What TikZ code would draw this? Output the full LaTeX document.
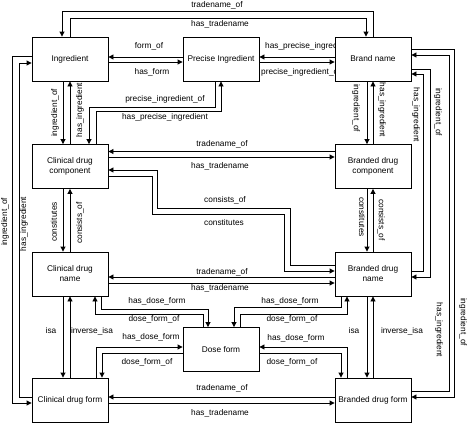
\documentclass[tikz,border=0pt]{standalone}
\usepackage{fontspec}
\setmainfont{Liberation Sans}
\usepackage{tikz}
\usetikzlibrary{arrows.meta, backgrounds}

\begin{document}
\begin{tikzpicture}[
        x=1pt, y=-1pt,
        box/.style={rectangle, draw, line width=0.9pt, fill=white, align=center,
            minimum width=76pt, minimum height=44pt, inner sep=0pt,
            font=\fontsize{8.3}{10}\selectfont},
        lbl/.style={inner sep=0pt, font=\fontsize{8.3}{10}\selectfont},
        arrow/.style={line width=0.9pt, -{Triangle[length=5pt, width=5pt]}}
    ]
        \useasboundingbox (0,0) rectangle (467,423);
        \node[box] (ing) at (70,59) {Ingredient};
        \node[box] (pin) at (221,59) {Precise Ingredient};
        \node[box] (bn) at (373,59) {Brand name};
        \node[box] (cdc) at (70,166.5) {Clinical drug\\component};
        \node[box] (bdc) at (373,166.5) {Branded drug\\component};
        \node[box] (cdn) at (70,274) {Clinical drug\\name};
        \node[box] (bdn) at (373,274) {Branded drug\\name};
        \node[box] (df) at (221,349.5) {Dose form};
        \node[box] (cdf) at (70,400) {Clinical drug form};
        \node[box] (bdf) at (373,400) {Branded drug form};

        \begin{pgfonlayer}{background}
        % top row
        \draw[arrow] (bn.north) -- ++(0,-25) -| ([xshift=-8pt]ing.north);
        \draw[arrow] (ing.north) -- ++(0,-18) -| ([xshift=-7pt]bn.north);
        \draw[arrow] ([yshift=2pt]pin.west) -- ([yshift=2pt]ing.east);
        \draw[arrow] ([yshift=-3pt]ing.east) -- ([yshift=-3pt]pin.west);
        \draw[arrow] ([yshift=2pt]bn.west) -- ([yshift=2pt]pin.east);
        \draw[arrow] ([yshift=-3pt]pin.east) -- ([yshift=-3pt]bn.west);
        \node[lbl] (l1) at (217,5) {tradename\_of};
        \node[lbl] (l2) at (220,24) {has\_tradename};
        \node[lbl] (l3) at (149,46) {form\_of};
        \node[lbl] (l4) at (152,72) {has\_form};
        \node[lbl, anchor=west] (l5) at (265,46) {has\_precise\_ingredient};
        \node[lbl, anchor=west] (l6) at (261,72) {precise\_ingredient\_of};

        % down to the components
        \draw[arrow] ([xshift=-7pt]ing.south) -- ([xshift=-7pt]cdc.north);
        \draw[arrow] (cdc.north) -- (ing.south);
        \draw[arrow] ([xshift=-6pt]pin.south) -- ++(0,26) -| ([xshift=19pt]cdc.north);
        \draw[arrow] ([xshift=26pt]cdc.north) -- ++(0,-32.5) -| (pin.south);
        \draw[arrow] ([xshift=-6pt]bn.south) -- ([xshift=-6pt]bdc.north);
        \draw[arrow] (bdc.north) -- (bn.south);
        \node[lbl, rotate=90] (l7) at (55,113) {ingredient\_of};
        \node[lbl, rotate=90] (l8) at (80,110) {has\_ingredient};
        \node[lbl] (l9) at (165,99) {precise\_ingredient\_of};
        \node[lbl] (l10) at (165,117) {has\_precise\_ingredient};
        \node[lbl, rotate=-90] (l11) at (356,108) {ingredient\_of};
        \node[lbl, rotate=-90] (l12) at (382,110) {has\_ingredient};

        % outer loops
        \draw[arrow] ([yshift=-10pt]bn.east) -- ++(19,0) |- ([yshift=-3pt]bdn.east);
        \draw[arrow] ([yshift=3pt]bdn.east) -- ++(12,0) |- ([yshift=-15pt]bn.east);
        \draw[arrow] ([yshift=10pt]bn.east) -- ++(43,0) |- ([yshift=3pt]bdf.east);
        \draw[arrow] ([yshift=9pt]bdf.east) -- ++(38,0) |- ([yshift=4pt]bn.east);
        \draw[arrow] ([yshift=3pt]ing.west) -- ++(-19,0) |- ([yshift=-3pt]cdf.west);
        \draw[arrow] ([yshift=3pt]cdf.west) -- ++(-12,0) |- ([yshift=-4pt]ing.west);
        \node[lbl, rotate=-90] (l13) at (416,115) {has\_ingredient};
        \node[lbl, rotate=-90] (l14) at (438,112) {ingredient\_of};
        \node[lbl, rotate=-90] (l15) at (439,330) {has\_ingredient};
        \node[lbl, rotate=-90] (l16) at (463,322) {ingredient\_of};
        \node[lbl, rotate=90] (l17) at (5,222) {ingredient\_of};
        \node[lbl, rotate=90] (l18) at (24,224) {has\_ingredient};

        % components
        \draw[arrow] ([yshift=15pt]bdc.west) -- ([yshift=15pt]cdc.east);
        \draw[arrow] ([yshift=9.5pt]cdc.east) -- ([yshift=9.5pt]bdc.west);
        \draw[arrow] ([yshift=9pt]bdn.west) -- ++(-44,0) -- ++(0,-57) -- ++(-133,0) |- ([yshift=-3.5pt]cdc.east);
        \draw[arrow] ([yshift=-9.5pt]cdc.east) -- ++(44,0) -- ++(0,38) -- ++(132,0) |- ([yshift=3pt]bdn.west);
        \draw[arrow] ([xshift=-7pt]cdc.south) -- ([xshift=-7pt]cdn.north);
        \draw[arrow] (cdn.north) -- (cdc.south);
        \draw[arrow] ([xshift=-6pt]bdc.south) -- ([xshift=-6pt]bdn.north);
        \draw[arrow] (bdn.north) -- (bdc.south);
        \node[lbl] (l19) at (222,144) {tradename\_of};
        \node[lbl] (l20) at (220,166) {has\_tradename};
        \node[lbl] (l21) at (225,200) {consists\_of};
        \node[lbl] (l22) at (224,223) {constitutes};
        \node[lbl, rotate=90] (l23) at (54,222) {constitutes};
        \node[lbl, rotate=90] (l24) at (80,223) {consists\_of};
        \node[lbl, rotate=-90] (l25) at (362,217) {constitutes};
        \node[lbl, rotate=-90] (l26) at (381,220) {consists\_of};

        % names and dose form
        \draw[arrow] ([yshift=-3pt]bdn.west) -- ([yshift=-3pt]cdn.east);
        \draw[arrow] ([yshift=-9pt]cdn.east) -- ([yshift=-9pt]bdn.west);
        \draw[arrow] ([xshift=31pt]cdn.south) -- ++(0,13) -| ([xshift=-13pt]df.north);
        \draw[arrow] ([xshift=-18pt]df.north) -- ++(0,-12.5) -| ([xshift=25pt]cdn.south);
        \draw[arrow] ([xshift=-32pt]bdn.south) -- ++(0,11) -| ([xshift=13pt]df.north);
        \draw[arrow] ([xshift=19pt]df.north) -- ++(0,-12.5) -| ([xshift=-26pt]bdn.south);
        \draw[arrow] ([xshift=-7pt]cdn.south) -- ([xshift=-7pt]cdf.north);
        \draw[arrow] (cdf.north) -- (cdn.south);
        \draw[arrow] ([xshift=-6pt]bdn.south) -- ([xshift=-6pt]bdf.north);
        \draw[arrow] (bdf.north) -- (bdn.south);
        \draw[arrow] ([xshift=26pt]cdf.north) |- ([yshift=2.5pt]df.west);
        \draw[arrow] ([yshift=-3.5pt]df.west) -| ([xshift=32pt]cdf.north);
        \draw[arrow] ([xshift=-26pt]bdf.north) |- ([yshift=2.5pt]df.east);
        \draw[arrow] ([yshift=-3.5pt]df.east) -| ([xshift=-32pt]bdf.north);
        \node[lbl] (l27) at (222,272) {tradename\_of};
        \node[lbl] (l28) at (220,288) {has\_tradename};
        \node[lbl] (l29) at (157,301) {has\_dose\_form};
        \node[lbl] (l30) at (154,319) {dose\_form\_of};
        \node[lbl] (l31) at (290,301) {has\_dose\_form};
        \node[lbl] (l32) at (292,319) {dose\_form\_of};
        \node[lbl] (l33) at (51,331) {isa};
        \node[lbl] (l34) at (92,331) {inverse\_isa};
        \node[lbl] (l35) at (151,337) {has\_dose\_form};
        \node[lbl] (l36) at (147,362) {dose\_form\_of};
        \node[lbl] (l37) at (296,338) {has\_dose\_form};
        \node[lbl] (l38) at (292,362) {dose\_form\_of};
        \node[lbl] (l39) at (354,331) {isa};
        \node[lbl] (l40) at (402,331) {inverse\_isa};

        % forms
        \draw[arrow] ([yshift=3pt]bdf.west) -- ([yshift=3pt]cdf.east);
        \draw[arrow] ([yshift=-3pt]cdf.east) -- ([yshift=-3pt]bdf.west);
        \node[lbl] (l41) at (222,388) {tradename\_of};
        \node[lbl] (l42) at (220,413) {has\_tradename};
        \end{pgfonlayer}
    \end{tikzpicture}
\end{document}
